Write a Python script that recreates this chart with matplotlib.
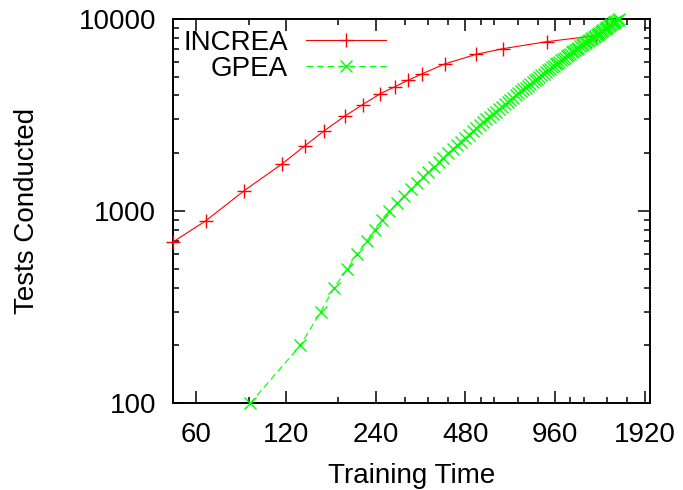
import matplotlib
matplotlib.use("Agg")
import matplotlib.pyplot as plt
from matplotlib.ticker import FixedLocator, FixedFormatter, NullFormatter, LogLocator

plt.rcParams['font.family'] = ['Liberation Sans', 'DejaVu Sans']

# INCREA series
increa_time = [50, 64.5, 87, 116, 139, 161, 190, 217, 249, 279, 308, 343, 409, 523, 641, 900, 1313]
increa_tests = [690, 890, 1280, 1755, 2190, 2615, 3140, 3585, 4090, 4445, 4800, 5175, 5835, 6555, 7005, 7620, 8190]

# GPEA series
gpea_time = [91, 134, 157, 174, 193, 208, 224, 239, 253, 267,
             283, 299, 315, 330, 345, 361, 376, 391, 405, 420,
             435, 450, 464, 479, 493, 508, 522, 537, 551, 565,
             580, 594, 608, 623, 637, 651, 665, 680, 694, 708,
             722, 737, 751, 765, 779, 793, 808, 822, 836, 850,
             864, 879, 893, 907, 921, 936, 950, 964, 978, 993,
             1007, 1021, 1035, 1050, 1064, 1078, 1093, 1107, 1121, 1136,
             1150, 1164, 1179, 1193, 1208, 1222, 1236, 1251, 1265, 1280,
             1294, 1309, 1323, 1338, 1352, 1367, 1381, 1396, 1410, 1425,
             1440, 1454, 1469, 1483, 1498, 1513, 1527, 1542, 1557, 1572]
gpea_tests = [100, 200, 300, 400, 500, 600, 700, 800, 900, 1000,
              1100, 1200, 1300, 1400, 1500, 1600, 1700, 1800, 1900, 2000,
              2100, 2200, 2300, 2400, 2500, 2600, 2700, 2800, 2900, 3000,
              3100, 3200, 3300, 3400, 3500, 3600, 3700, 3800, 3900, 4000,
              4100, 4200, 4300, 4400, 4500, 4600, 4700, 4800, 4900, 5000,
              5100, 5200, 5300, 5400, 5500, 5600, 5700, 5800, 5900, 6000,
              6100, 6200, 6300, 6400, 6500, 6600, 6700, 6800, 6900, 7000,
              7100, 7200, 7300, 7400, 7500, 7600, 7700, 7800, 7900, 8000,
              8100, 8200, 8300, 8400, 8500, 8600, 8700, 8800, 8900, 9000,
              9100, 9200, 9300, 9400, 9500, 9600, 9700, 9800, 9900, 10000]

x_ticks = [60, 120, 240, 480, 960, 1920]
x_tick_labels = ['60', '120', '240', '480', '960', '1920']
x_minor_ticks = [90, 180, 300, 360, 420, 540, 600, 720, 840, 1080, 1200, 1440, 1680]
y_ticks = [100, 1000, 10000]
y_tick_labels = ['100', '1000', '10000']

fig = plt.figure(figsize=(6.83, 4.90), dpi=100)
ax = fig.add_axes([172.7 / 683, 1 - 403.3 / 490, (650 - 172.7) / 683, (403.3 - 19) / 490])

ax.plot(increa_time, increa_tests, color='#ff0000', lw=0.8, marker='+', ms=10,
        mew=1.0, label='INCREA', clip_on=False, zorder=3)
ax.plot(gpea_time, gpea_tests, color='#00ff00', lw=0.8, ls=(0, (6, 3.5)), marker='x',
        ms=8.5, mew=1.0, label='GPEA', clip_on=False, zorder=4)

ax.set_xscale('log', base=2)
ax.set_yscale('log')
ax.set_xlim(50, 2000)
ax.set_ylim(100, 10000)

ax.xaxis.set_major_locator(FixedLocator(x_ticks))
ax.xaxis.set_major_formatter(FixedFormatter(x_tick_labels))
ax.xaxis.set_minor_locator(FixedLocator(x_minor_ticks))
ax.xaxis.set_minor_formatter(NullFormatter())
ax.yaxis.set_major_locator(FixedLocator(y_ticks))
ax.yaxis.set_major_formatter(FixedFormatter(y_tick_labels))
ax.yaxis.set_minor_locator(LogLocator(base=10, subs=range(2, 10)))
ax.yaxis.set_minor_formatter(NullFormatter())

for s in ax.spines.values():
    s.set_linewidth(1.4)
ax.tick_params(which='both', direction='in', top=True, right=True, width=1.1, labelsize=20)
ax.tick_params(which='major', length=8.6)
ax.tick_params(which='minor', length=4.3)
ax.tick_params(axis='x', which='major', pad=13.7)
ax.tick_params(axis='y', which='major', pad=12)

ax.set_xlabel('Training Time', fontsize=20, labelpad=10.7)
ax.set_ylabel('Tests Conducted', fontsize=20, labelpad=27.7)

ax.legend(loc='upper left', bbox_to_anchor=(183.5 / 683, 1 - 29.7 / 490),
          bbox_transform=fig.transFigure, frameon=False, markerfirst=False,
          handlelength=2.87, handletextpad=0.65, labelspacing=0.0, borderpad=0,
          borderaxespad=0, fontsize=20, numpoints=1)

fig.savefig('out.png', dpi=100)
